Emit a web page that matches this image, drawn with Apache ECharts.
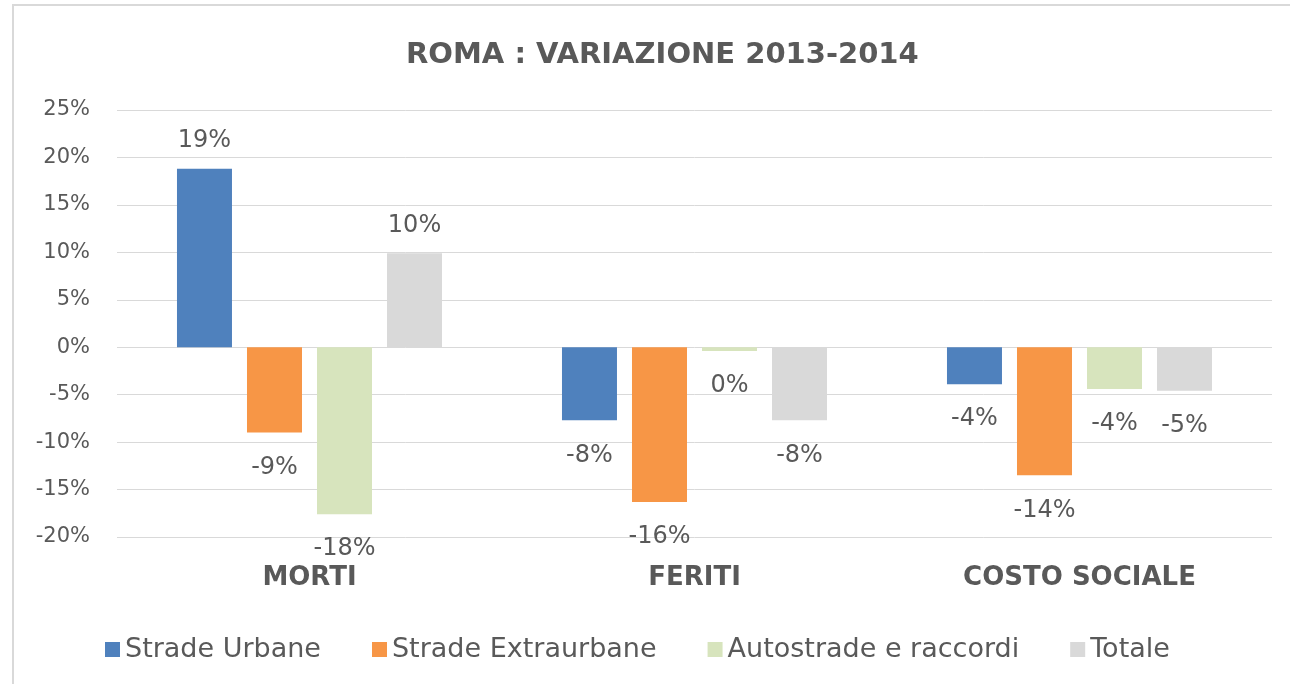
<!DOCTYPE html>
<html>
<head>
<meta charset="utf-8">
<script src="https://cdn.jsdelivr.net/npm/echarts@6/dist/echarts.min.js"></script>
<style>
  html, body { margin: 0; padding: 0; background: #fff; }
  #chart { width: 1290px; height: 684px; }
</style>
</head>
<body>
<div id="chart"></div>
<script>
// dati (variazione % 2013-2014)
const categories = ['MORTI', 'FERITI', 'COSTO SOCIALE']
const seriesNames = ['Strade Urbane', 'Strade Extraurbane', 'Autostrade e raccordi', 'Totale']
const stradeUrbane = [18.8, -7.7, -3.9]
const stradeExtraurbane = [-9.0, -16.3, -13.5]
const autostrade = [-17.6, -0.4, -4.4]
const totale = [9.9, -7.7, -4.6]
const yTicks = { min: -20, max: 25, step: 5 }

const colors = ['#4F81BD', '#F79646', '#D7E4BD', '#D9D9D9']
const textColor = '#595959'
const font = 'DejaVu Sans'

// Excel arrotonda l'etichetta, 0 senza segno
let pctLabel = v => {
  let r = Math.round(Math.abs(v)) * (v < 0 ? -1 : 1)
  if (r === 0) r = 0
  return r + '%'
}

let makeSeries = (name, values, i) => {
  return {
    name: name,
    type: 'bar',
    barWidth: 55,
    barGap: '27.3%',
    itemStyle: { color: colors[i] },
    data: values.map(v => {
      return {
        value: v,
        label: {
          show: true,
          position: v >= 0 ? 'top' : 'bottom',
          distance: v >= 0 ? 16 : 23,
          formatter: () => pctLabel(v),
          color: textColor,
          fontFamily: font,
          fontSize: 24
        }
      }
    })
  }
}

const allValues = [stradeUrbane, stradeExtraurbane, autostrade, totale]

const chart = echarts.init(document.getElementById('chart'))
chart.setOption({
  backgroundColor: '#fff',
  animation: false,
  textStyle: { fontFamily: font },
  title: {
    text: 'ROMA : VARIAZIONE 2013-2014',
    left: 401,
    top: 36,
    textStyle: {
      color: textColor,
      fontFamily: font,
      fontWeight: 'bold',
      fontSize: 29
    }
  },
  graphic: [
    {
      type: 'rect',
      shape: { x: 13, y: 5, width: 1320, height: 720 },
      style: { fill: 'none', stroke: '#D9D9D9', lineWidth: 2 },
      silent: true
    }
  ],
  legend: {
    bottom: 16,
    left: 100,
    itemWidth: 15,
    itemHeight: 15,
    itemGap: 51,
    icon: 'rect',
    textStyle: { color: textColor, fontFamily: font, fontSize: 27 },
    data: seriesNames
  },
  grid: {
    left: 117,
    right: 18,
    top: 110,
    bottom: 147,
    containLabel: false
  },
  xAxis: {
    type: 'category',
    data: categories,
    axisLine: { show: false, onZero: false },
    axisTick: { show: false },
    axisLabel: {
      margin: 28,
      color: textColor,
      fontFamily: font,
      fontWeight: 'bold',
      fontSize: 26
    }
  },
  yAxis: {
    type: 'value',
    min: yTicks.min,
    max: yTicks.max,
    interval: yTicks.step,
    axisLine: { show: false },
    axisTick: { show: false },
    splitLine: { lineStyle: { color: '#D9D9D9', width: 1 } },
    axisLabel: {
      margin: 27,
      formatter: '{value}%',
      color: textColor,
      fontFamily: font,
      fontSize: 21
    }
  },
  series: seriesNames.map((n, i) => makeSeries(n, allValues[i], i))
})
</script>
</body>
</html>
